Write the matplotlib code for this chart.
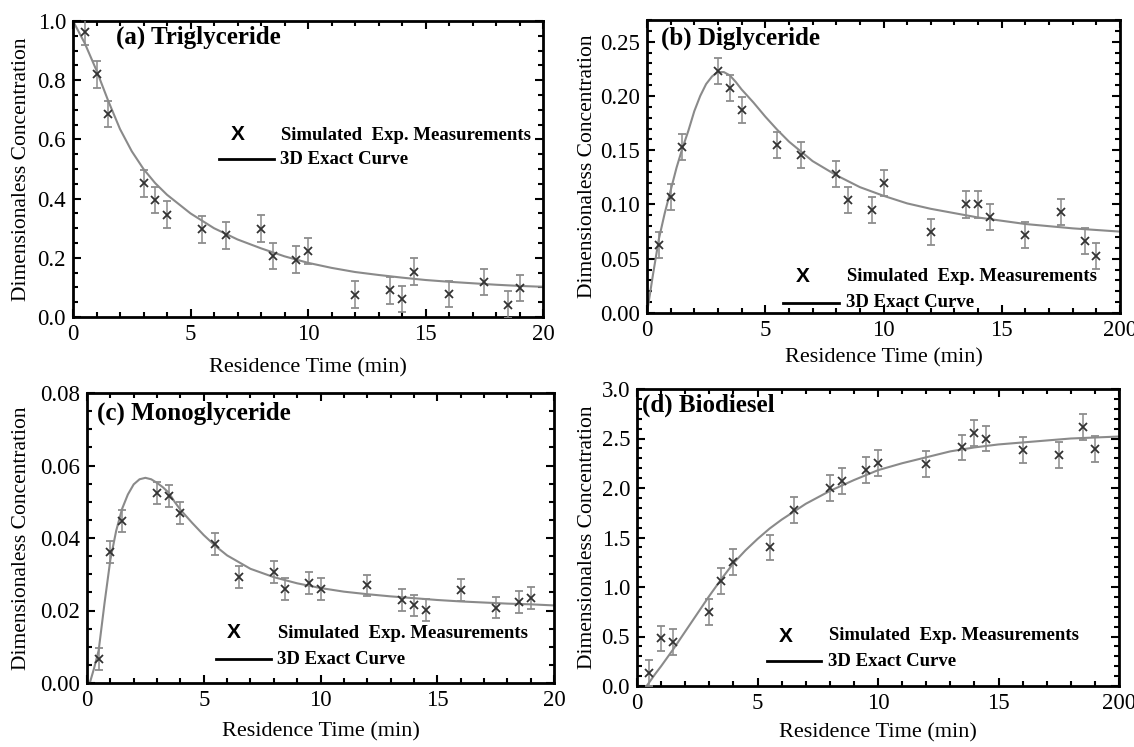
import matplotlib
matplotlib.use("Agg")
import matplotlib.pyplot as plt
from matplotlib.lines import Line2D
from matplotlib.ticker import MultipleLocator, FormatStrFormatter

plt.rcParams['font.family'] = ['Liberation Serif', 'DejaVu Serif']

# sampling times of the simulated measurements (min)
t_exp = [0.5, 1, 1.5, 3, 3.5, 4, 5.5, 6.5, 8, 8.5, 9.5, 10, 12, 13.5, 14, 14.5, 16, 17.5, 18.5, 19]

tg_exp = [0.963, 0.82, 0.686, 0.452, 0.395, 0.346, 0.296, 0.276, 0.298, 0.206,
          0.194, 0.223, 0.076, 0.09, 0.061, 0.153, 0.078, 0.118, 0.042, 0.098]
dg_exp = [0.0625, 0.107, 0.153, 0.2226, 0.207, 0.1875, 0.155, 0.146, 0.128, 0.104,
          0.0945, 0.1195, 0.0747, 0.100, 0.100, 0.0884, 0.0716, 0.093, 0.0665, 0.0524]
mg_exp = [0.0067, 0.0361, 0.0447, 0.0524, 0.0515, 0.0469, 0.0383, 0.0292, 0.0306, 0.026,
          0.0276, 0.026, 0.0269, 0.023, 0.0214, 0.0202, 0.0256, 0.0208, 0.0223, 0.0235]
bd_exp = [0.128, 0.48, 0.448, 0.75, 1.064, 1.256, 1.40, 1.778, 1.997, 2.074,
          2.18, 2.25, 2.242, 2.41, 2.552, 2.50, 2.384, 2.333, 2.613, 2.394]

# error bar half-widths
tg_err = 0.045
dg_err = 0.012
mg_err = 0.003
bd_err = 0.13

# exact curves
tg_t = [0, 0.5, 1, 1.5, 2, 2.5, 3, 3.5, 4, 5, 6, 7, 8, 9, 10, 11, 12, 13, 14, 15, 16, 17, 18, 19, 20]
tg_fit = [1.0, 0.925, 0.833, 0.73, 0.635, 0.56, 0.50, 0.452, 0.413, 0.35, 0.30, 0.262, 0.232,
          0.205, 0.183, 0.166, 0.152, 0.142, 0.133, 0.125, 0.119, 0.114, 0.109, 0.105, 0.102]

dg_t = [0, 0.25, 0.5, 0.75, 1, 1.25, 1.5, 1.75, 2, 2.25, 2.5, 2.75, 3, 3.25, 3.5, 3.75, 4, 4.5,
        5, 5.5, 6, 7, 8, 9, 10, 11, 12, 13, 14, 15, 16, 17, 18, 19, 20]
dg_fit = [0, 0.035, 0.068, 0.092, 0.113, 0.134, 0.152, 0.168, 0.186, 0.200, 0.211, 0.218, 0.222,
          0.222, 0.219, 0.213, 0.206, 0.194, 0.181, 0.169, 0.158, 0.140, 0.127, 0.116, 0.108,
          0.101, 0.096, 0.092, 0.088, 0.085, 0.082, 0.080, 0.078, 0.0765, 0.075]

mg_t = [0.12, 0.3, 0.5, 0.75, 1, 1.25, 1.5, 1.75, 2, 2.25, 2.5, 2.75, 3, 3.25, 3.5, 3.75, 4, 4.5,
        5, 5.5, 6, 7, 8, 9, 10, 11, 12, 13, 14, 15, 16, 17, 18, 19, 20]
mg_fit = [0, 0.004, 0.009, 0.022, 0.034, 0.042, 0.048, 0.052, 0.0548, 0.0562, 0.0566, 0.0562,
          0.0552, 0.054, 0.0525, 0.050, 0.0478, 0.0442, 0.0408, 0.0378, 0.0352, 0.0315, 0.0292,
          0.0275, 0.0262, 0.0252, 0.0245, 0.0239, 0.0234, 0.0229, 0.0225, 0.0222, 0.0219, 0.0217, 0.0214]

bd_t = [0.4, 0.75, 1, 1.5, 2, 2.5, 3, 3.5, 4, 4.5, 5, 5.5, 6, 7, 8, 9, 10, 11, 12, 13, 14, 15,
        16, 17, 18, 19, 20]
bd_fit = [0, 0.12, 0.2, 0.37, 0.55, 0.73, 0.91, 1.08, 1.24, 1.37, 1.485, 1.59, 1.68, 1.84, 1.97,
          2.08, 2.18, 2.25, 2.31, 2.37, 2.41, 2.44, 2.46, 2.48, 2.50, 2.51, 2.52]

titles = ['(a) Triglyceride', '(b) Diglyceride', '(c) Monoglyceride', '(d) Biodiesel']
ylims = [(0, 1.0), (0, 0.27), (0, 0.08), (0, 3.0)]
y_major = [0.2, 0.05, 0.02, 0.5]
y_minor = [0.05, 0.01, 0.005, 0.1]
y_fmt = ['%.1f', '%.2f', '%.2f', '%.1f']
x_last = ['20', '200', '20', '200']

W, H = 1134, 747
fig = plt.figure(figsize=(W / 100, H / 100), dpi=100)

# pixel boxes (left, top, right, bottom) of each panel
boxes = [(73, 21, 543, 317), (647, 20, 1120, 313), (87, 393, 554, 683), (637, 389, 1119, 686)]
ylab_x = [22, 587, 22, 587]
xlab_y = [368, 358, 732, 733]
title_xy = [(116, 37), (661, 38), (97, 413), (642, 405)]
leg_xy = [(238, 281, 135, 159, 219, 274),
          (803, 847, 277, 303, 783, 839),
          (234, 278, 633, 659, 216, 271),
          (786, 829, 636, 661, 767, 821)]

exp_sets = [tg_exp, dg_exp, mg_exp, bd_exp]
errs = [tg_err, dg_err, mg_err, bd_err]
fits = [(tg_t, tg_fit), (dg_t, dg_fit), (mg_t, mg_fit), (bd_t, bd_fit)]


def fx(x):
    return x / W


def fy(y):
    return 1 - y / H


for i in range(4):
    l, t, r, b = boxes[i]
    ax = fig.add_axes([fx(l), fy(b), (r - l) / W, (b - t) / H])
    ax.plot(fits[i][0], fits[i][1], color='#8a8a8a', lw=1.5, zorder=2)
    ax.errorbar(t_exp, exp_sets[i], yerr=errs[i], fmt='x', color='#333333', ms=6, mew=1.3,
                ecolor='#8c8c8c', elinewidth=1.1, capsize=3, capthick=1.1, zorder=3)
    ax.set_xlim(0, 20)
    ax.set_ylim(*ylims[i])
    ax.xaxis.set_minor_locator(MultipleLocator(1))
    ax.yaxis.set_major_locator(MultipleLocator(y_major[i]))
    ax.yaxis.set_minor_locator(MultipleLocator(y_minor[i]))
    ax.set_xticks([0, 5, 10, 15, 20])
    ax.set_xticklabels(['0', '5', '10', '15', x_last[i]])
    ax.yaxis.set_major_formatter(FormatStrFormatter(y_fmt[i]))
    ax.tick_params(which='both', direction='in', top=True, right=True, labelsize=16.5, width=1.5)
    ax.tick_params(which='major', length=6, pad=5)
    ax.tick_params(which='minor', length=3.5)
    for s in ax.spines.values():
        s.set_linewidth(2)

    fig.text(fx((l + r) / 2), fy(xlab_y[i]), 'Residence Time (min)', fontsize=16,
             ha='center', va='center')
    fig.text(fx(ylab_x[i]), fy((t + b) / 2), 'Dimensionaless Concentration', fontsize=15.5,
             rotation=90, ha='center', va='center')
    fig.text(fx(title_xy[i][0]), fy(title_xy[i][1]), titles[i], fontsize=18,
             fontweight='bold', ha='left', va='center')

    xm, xt, y1, y2, xl1, xl2 = leg_xy[i]
    fig.text(fx(xm), fy(y1), 'X', fontsize=15, fontweight='bold', family='Liberation Sans',
             ha='center', va='center')
    fig.text(fx(xt), fy(y1), 'Simulated  Exp. Measurements', fontsize=13.5,
             fontweight='bold', ha='left', va='center')
    fig.add_artist(Line2D([fx(xl1), fx(xl2)], [fy(y2), fy(y2)], color='black', lw=2,
                          transform=fig.transFigure))
    fig.text(fx(xt - 1), fy(y2), '3D Exact Curve', fontsize=13.5,
             fontweight='bold', ha='left', va='center')

fig.savefig('out.png', dpi=100)
